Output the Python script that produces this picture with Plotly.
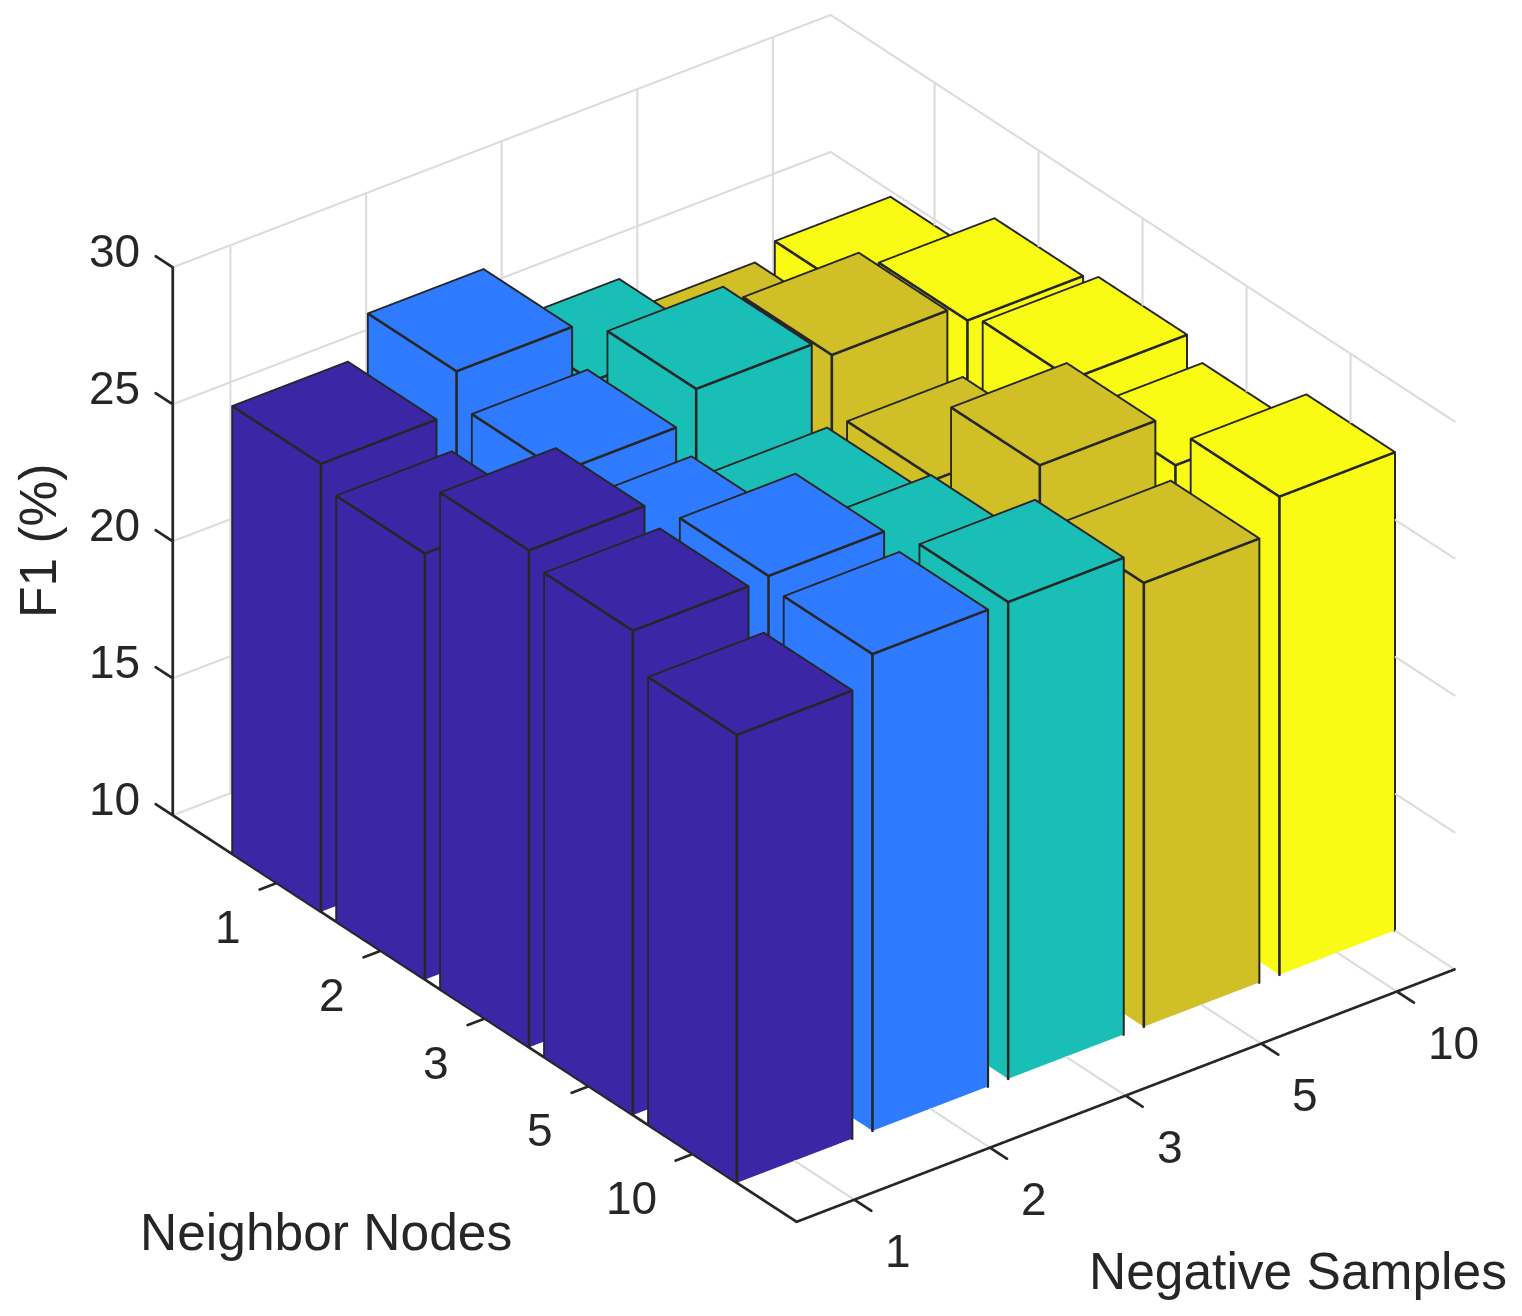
import plotly.graph_objects as go
import math

neg_labels = ["1", "2", "3", "5", "10"]
nbr_labels = ["1", "2", "3", "5", "10"]
z_ticks = [10, 15, 20, 25, 30]

# F1 per negative-samples series, listed by neighbor nodes 1,2,3,5,10
neg_1 = [26.35, 25.55, 28.14, 27.68, 26.35]
neg_2 = [27.83, 26.63, 25.94, 27.78, 27.4]
neg_3 = [25.57, 27.76, 25.09, 25.83, 27.4]
neg_5 = [24.27, 27.1, 25.04, 28.02, 26.2]
neg_10 = [24.77, 26.46, 26.79, 26.12, 27.45]
series = [neg_1, neg_2, neg_3, neg_5, neg_10]
colors = ["#3B26A6", "#2F7BFF", "#19BFB7", "#D0BF26", "#F9FB15"]

W = 0.85
BASE = 10
EDGE = "#262626"
GRID = "#DCDCDC"
TXT = "#262626"
FONT = "Liberation Sans"
XMIN, XMAX = 1 - W / 2, 5 + W / 2
YMIN, YMAX = -6, 0
ZMIN, ZMAX = 10, 30
TICK_X, TICK_Y = 0.125, 0.163
# scene box carries a small margin so that ticks and line thickness fit inside it
XR = [0.44, 5.44]
YR = [-6.18, 0.18]
ZR = [9.9, 30.1]

OFF = 8                     # browser body margin
FIG_W, FIG_H = 1522 - OFF, 1316 - OFF
CX, CY = 805.4 - OFF, 621.6 - OFF   # figure position of the scene box centre
H = 2 * CY
UNIT = H / 2                # pixels per world unit in the orthographic view

# world units per data unit
KX, KY, KZ = 829.4 / 4.85 / UNIT, 1025 / 6 / UNIT, 632.8 / 20 / UNIT


class Soup:
    def __init__(self):
        self.x, self.y, self.z, self.i, self.j, self.k = [], [], [], [], [], []

    def box(self, x0, x1, y0, y1, z0, z1):
        n = len(self.x)
        self.x += [x0, x1, x1, x0, x0, x1, x1, x0]
        self.y += [y0, y0, y1, y1, y0, y0, y1, y1]
        self.z += [z0] * 4 + [z1] * 4
        for a, b, c in [(4, 5, 6), (4, 6, 7), (0, 1, 5), (0, 5, 4), (1, 2, 6), (1, 6, 5),
                        (2, 3, 7), (2, 7, 6), (3, 0, 4), (3, 4, 7), (0, 1, 2), (0, 2, 3)]:
            self.i.append(n + a); self.j.append(n + b); self.k.append(n + c)

    def seg(self, p, q, px):
        """axis-aligned stroke of thickness px pixels"""
        h = px / 2 / UNIT
        hx, hy, hz = h / KX, h / KY, h / KZ
        self.box(min(p[0], q[0]) - hx, max(p[0], q[0]) + hx,
                 min(p[1], q[1]) - hy, max(p[1], q[1]) + hy,
                 min(p[2], q[2]) - hz, max(p[2], q[2]) + hz)

    def trace(self, col):
        return go.Mesh3d(x=self.x, y=self.y, z=self.z, i=self.i, j=self.j, k=self.k, color=col,
                         flatshading=True,
                         lighting=dict(ambient=1, diffuse=0, specular=0, roughness=1, fresnel=0),
                         hoverinfo="skip", showscale=False)


fig = go.Figure()
edges = Soup()
T_EDGE = 1.85
for i, (vals, col) in enumerate(zip(series, colors)):
    bars = Soup()
    for j, v in enumerate(vals):
        x0, x1 = i + 1 - W / 2, i + 1 + W / 2
        y0, y1 = -(j + 1) - W / 2, -(j + 1) + W / 2
        bars.box(x0, x1, y0, y1, BASE, v)
        edges.seg((x0, y0, v), (x1, y0, v), T_EDGE)
        edges.seg((x0, y1, v), (x1, y1, v), T_EDGE)
        edges.seg((x0, y0, v), (x0, y1, v), T_EDGE)
        edges.seg((x1, y0, v), (x1, y1, v), T_EDGE)
        for px, py in [(x0, y0), (x1, y0), (x1, y1), (x0, y1)]:
            edges.seg((px, py, BASE), (px, py, v), T_EDGE)
    fig.add_trace(bars.trace(col))
fig.add_trace(edges.trace(EDGE))

grid = Soup()
T_GRID = 1.5
xt = list(range(1, 6))
yt = [-(k + 1) for k in range(5)]
for x in xt:
    grid.seg((x, YMIN, ZMIN), (x, YMAX, ZMIN), T_GRID)
    grid.seg((x, YMAX, ZMIN), (x, YMAX, ZMAX), T_GRID)
for y in yt:
    grid.seg((XMIN, y, ZMIN), (XMAX, y, ZMIN), T_GRID)
    grid.seg((XMAX, y, ZMIN), (XMAX, y, ZMAX), T_GRID)
for z in z_ticks:
    grid.seg((XMIN, YMAX, z), (XMAX, YMAX, z), T_GRID)
    grid.seg((XMAX, YMIN, z), (XMAX, YMAX, z), T_GRID)
fig.add_trace(grid.trace(GRID))

ax = Soup()
T_AX = 1.9
ax.seg((XMIN, YMAX, ZMIN), (XMIN, YMAX, ZMAX), T_AX)
ax.seg((XMIN, YMIN, ZMIN), (XMIN, YMAX, ZMIN), T_AX)
ax.seg((XMIN, YMIN, ZMIN), (XMAX, YMIN, ZMIN), T_AX)
for z in z_ticks:
    ax.seg((XMIN, YMAX, z), (XMIN, YMAX + TICK_Y, z), T_AX)
for y in yt:
    ax.seg((XMIN, y, ZMIN), (XMIN - TICK_X, y, ZMIN), T_AX)
for x in xt:
    ax.seg((x, YMIN, ZMIN), (x, YMIN - TICK_Y, ZMIN), T_AX)
fig.add_trace(ax.trace(EDGE))

annots = []
tf = dict(size=46, color=TXT, family=FONT)
for z in z_ticks:
    annots.append(dict(x=XMIN, y=YMAX, z=z, text=str(z), showarrow=False, xanchor="right",
                       yanchor="middle", xshift=-31, yshift=16, font=tf))
for y, t in zip(yt, nbr_labels):
    annots.append(dict(x=XMIN, y=y, z=ZMIN, text=t, showarrow=False, xanchor="right",
                       yanchor="middle", xshift=-34, yshift=-44, font=tf))
for x, t in zip(xt, neg_labels):
    annots.append(dict(x=x, y=YMIN, z=ZMIN, text=t, showarrow=False, xanchor="left",
                       yanchor="middle", xshift=29, yshift=-51, font=tf))


def axis(rng, vals):
    return dict(range=rng, tickvals=vals, showticklabels=False, title=dict(text=""),
                showgrid=False, showline=False, ticks="", zeroline=False,
                showbackground=False, showspikes=False, autorange=False)


a = math.radians(37.5)
e = math.radians(30)
d = 3.0
fig.update_layout(
    width=FIG_W, height=FIG_H, margin=dict(l=0, r=0, t=0, b=0), paper_bgcolor="white",
    showlegend=False,
    scene=dict(
        domain=dict(x=[(2 * CX - FIG_W) / FIG_W, 1], y=[1 - H / FIG_H, 1]),
        xaxis=axis(XR, xt),
        yaxis=axis(YR, yt),
        zaxis=axis(ZR, z_ticks),
        aspectmode="manual",
        aspectratio=dict(x=KX * (XR[1] - XR[0]), y=KY * (YR[1] - YR[0]), z=KZ * (ZR[1] - ZR[0])),
        camera=dict(projection=dict(type="orthographic"), up=dict(x=0, y=0, z=1),
                    center=dict(x=0, y=0, z=0),
                    eye=dict(x=-d * math.sin(a) * math.cos(e), y=-d * math.cos(a) * math.cos(e),
                             z=d * math.sin(e))),
        annotations=annots,
    ),
    annotations=[
        dict(x=(326 - OFF) / FIG_W, y=1 - (1232 - OFF) / FIG_H, xref="paper", yref="paper",
             text="Neighbor Nodes", xanchor="center", yanchor="middle", showarrow=False,
             font=dict(size=51.5, color=TXT, family=FONT)),
        dict(x=(1298 - OFF) / FIG_W, y=1 - (1271 - OFF) / FIG_H, xref="paper", yref="paper",
             text="Negative Samples", xanchor="center", yanchor="middle", showarrow=False,
             font=dict(size=51.5, color=TXT, family=FONT)),
        dict(x=(38 - OFF) / FIG_W, y=1 - (541 - OFF) / FIG_H, xref="paper", yref="paper",
             text="F1 (%)", textangle=-90, xanchor="center", yanchor="middle", showarrow=False,
             font=dict(size=51.5, color=TXT, family=FONT)),
    ],
)
fig.write_html("out.html")
